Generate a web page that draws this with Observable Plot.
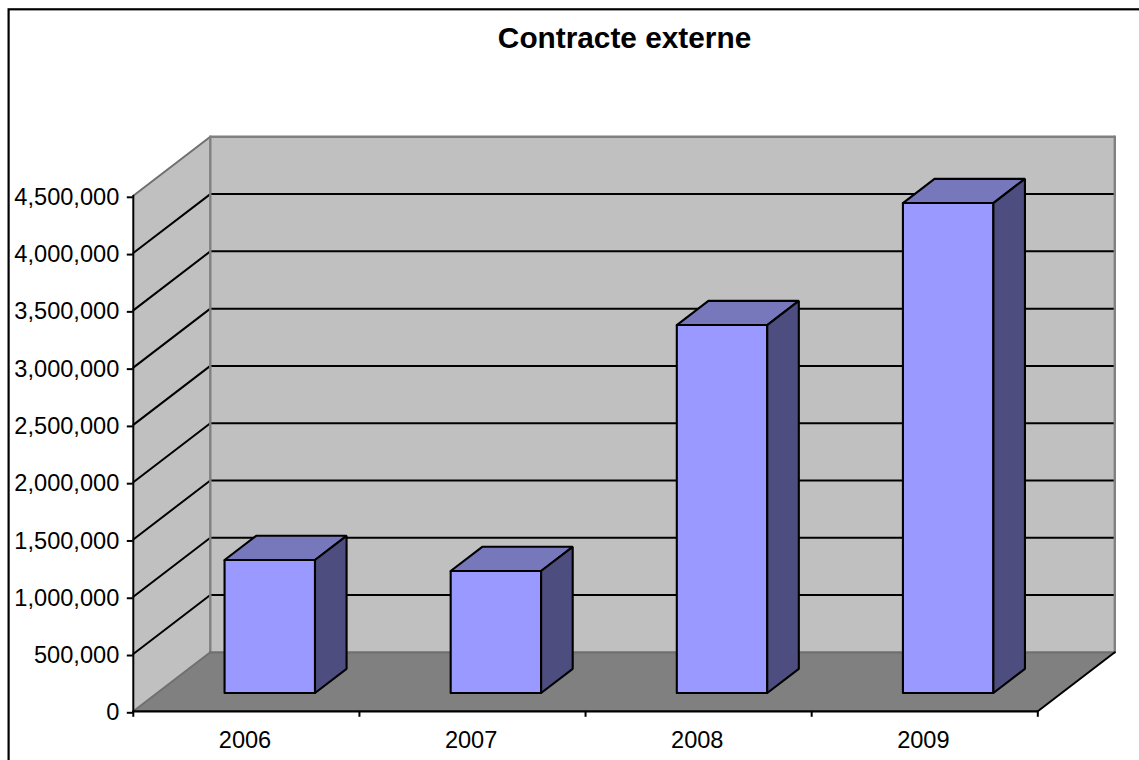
<!DOCTYPE html>
<html>
<head>
<meta charset="utf-8">
<script src="https://cdn.jsdelivr.net/npm/d3@7"></script>
<script src="https://cdn.jsdelivr.net/npm/@observablehq/plot@0.6"></script>
<style>html,body{margin:0;padding:0;background:#fff;overflow:hidden}svg{display:block}</style>
</head>
<body>
<div id="chart"></div>
<script>
const title = "Contracte externe";
const years = ["2006", "2007", "2008", "2009"];
const values = [1161000, 1065000, 3212000, 4277000];
const yTicks = [0, 500000, 1000000, 1500000, 2000000, 2500000, 3000000, 3500000, 4000000, 4500000];

const yMax = 4500000;
const DX = 0.3405;     // depth of the chart box, in category units
const DY = 515000;     // depth of the chart box, in value units
const barStart = 0.298, barEnd = 0.698; // bar span inside a category
const depthFront = 0.31, depthBack = 0.72;

const pt = (u, v, d) => ({x: u + d * DX, y: v + d * DY});
const poly = (pts, fill, stroke, strokeWidth) =>
  Plot.line([...pts, pts[0]], {x: "x", y: "y", fill, stroke, strokeWidth, strokeLinejoin: "miter"});
const seg = (a, b, stroke, strokeWidth) =>
  Plot.line([a, b], {x: "x", y: "y", stroke, strokeWidth});

const n = years.length;
const WALL = "#C0C0C0", FLOOR = "#808080", EDGE = "#808080";
const FRONT = "#9999FF", TOP = "#7777BB", SIDE = "#4D4D80";

const marks = [
  Plot.frame({stroke: "black", strokeWidth: 2.2, insetLeft: -124.7, insetTop: -186.5, insetRight: -200, insetBottom: -200}),
  // walls and floor
  poly([pt(0,0,0), pt(0,yMax,0), pt(0,yMax,1), pt(0,0,1)], WALL, "none"),
  poly([pt(0,0,1), pt(0,yMax,1), pt(n,yMax,1), pt(n,0,1)], WALL, "none"),
  poly([pt(0,0,0), pt(0,0,1), pt(n,0,1), pt(n,0,0)], FLOOR, "none"),
  // grid lines on the side and back walls
  ...yTicks.filter(v => v > 0 && v < yMax).flatMap(v => [
    seg(pt(0,v,0), pt(0,v,1), "black", 2),
    seg(pt(0,v,1), pt(n,v,1), "black", 2)
  ]),
  // wall edges
  seg(pt(0,yMax,0), pt(0,yMax,1), "#707070", 2),
  seg(pt(0,yMax,1), pt(n,yMax,1), EDGE, 2.4),
  seg(pt(n,yMax,1), pt(n,0,1), EDGE, 2.4),
  seg(pt(0,0,1), pt(0,yMax,1), EDGE, 2.4),
  seg(pt(0,0,1), pt(n,0,1), "#707070", 2.2),
  seg(pt(0,0,0), pt(0,0,1), "#707070", 2),
  seg(pt(n,0,0), pt(n,0,1), "black", 2),
  // bars
  ...values.flatMap((v, i) => {
    const a = i + barStart, b = i + barEnd;
    return [
      poly([pt(a,0,depthFront), pt(b,0,depthFront), pt(b,v,depthFront), pt(a,v,depthFront)], FRONT, "black", 2.1),
      poly([pt(a,v,depthFront), pt(b,v,depthFront), pt(b,v,depthBack), pt(a,v,depthBack)], TOP, "black", 2.1),
      poly([pt(b,0,depthFront), pt(b,v,depthFront), pt(b,v,depthBack), pt(b,0,depthBack)], SIDE, "black", 2.1)
    ];
  }),
  // front axes
  seg(pt(0,0,0), pt(n,0,0), "black", 2.2),
  seg(pt(0,0,0), pt(0,yMax,0), "black", 2),
  Plot.axisY({ticks: yTicks, tickFormat: d3.format(","), tickSize: 6, tickPadding: 8, dy: 1.5, fontSize: 23.6, label: null, strokeWidth: 2, stroke: "black"}),
  Plot.axisX({ticks: d3.range(n + 1), tickFormat: () => "", tickSize: 6, label: null, strokeWidth: 2, stroke: "black"}),
  Plot.text(years, {x: (d, i) => i + 0.494, y: 0, text: d => d, dy: 29, fontSize: 23.6, fill: "black"}),
  Plot.text([title], {frameAnchor: "top", dx: 39, dy: -169, fontSize: 29.8, fontWeight: "bold", fill: "black"})
];

const chart = Plot.plot({
  width: 1139,
  height: 760,
  marginLeft: 132.8,
  marginRight: 101.7,
  marginTop: 195.3,
  marginBottom: 49.2,
  x: {domain: [0, n]},
  y: {domain: [0, yMax]},
  style: {fontFamily: "'Liberation Sans', Arial, sans-serif", background: "white", color: "black"},
  marks
});
document.getElementById("chart").append(chart);
</script>
</body>
</html>
